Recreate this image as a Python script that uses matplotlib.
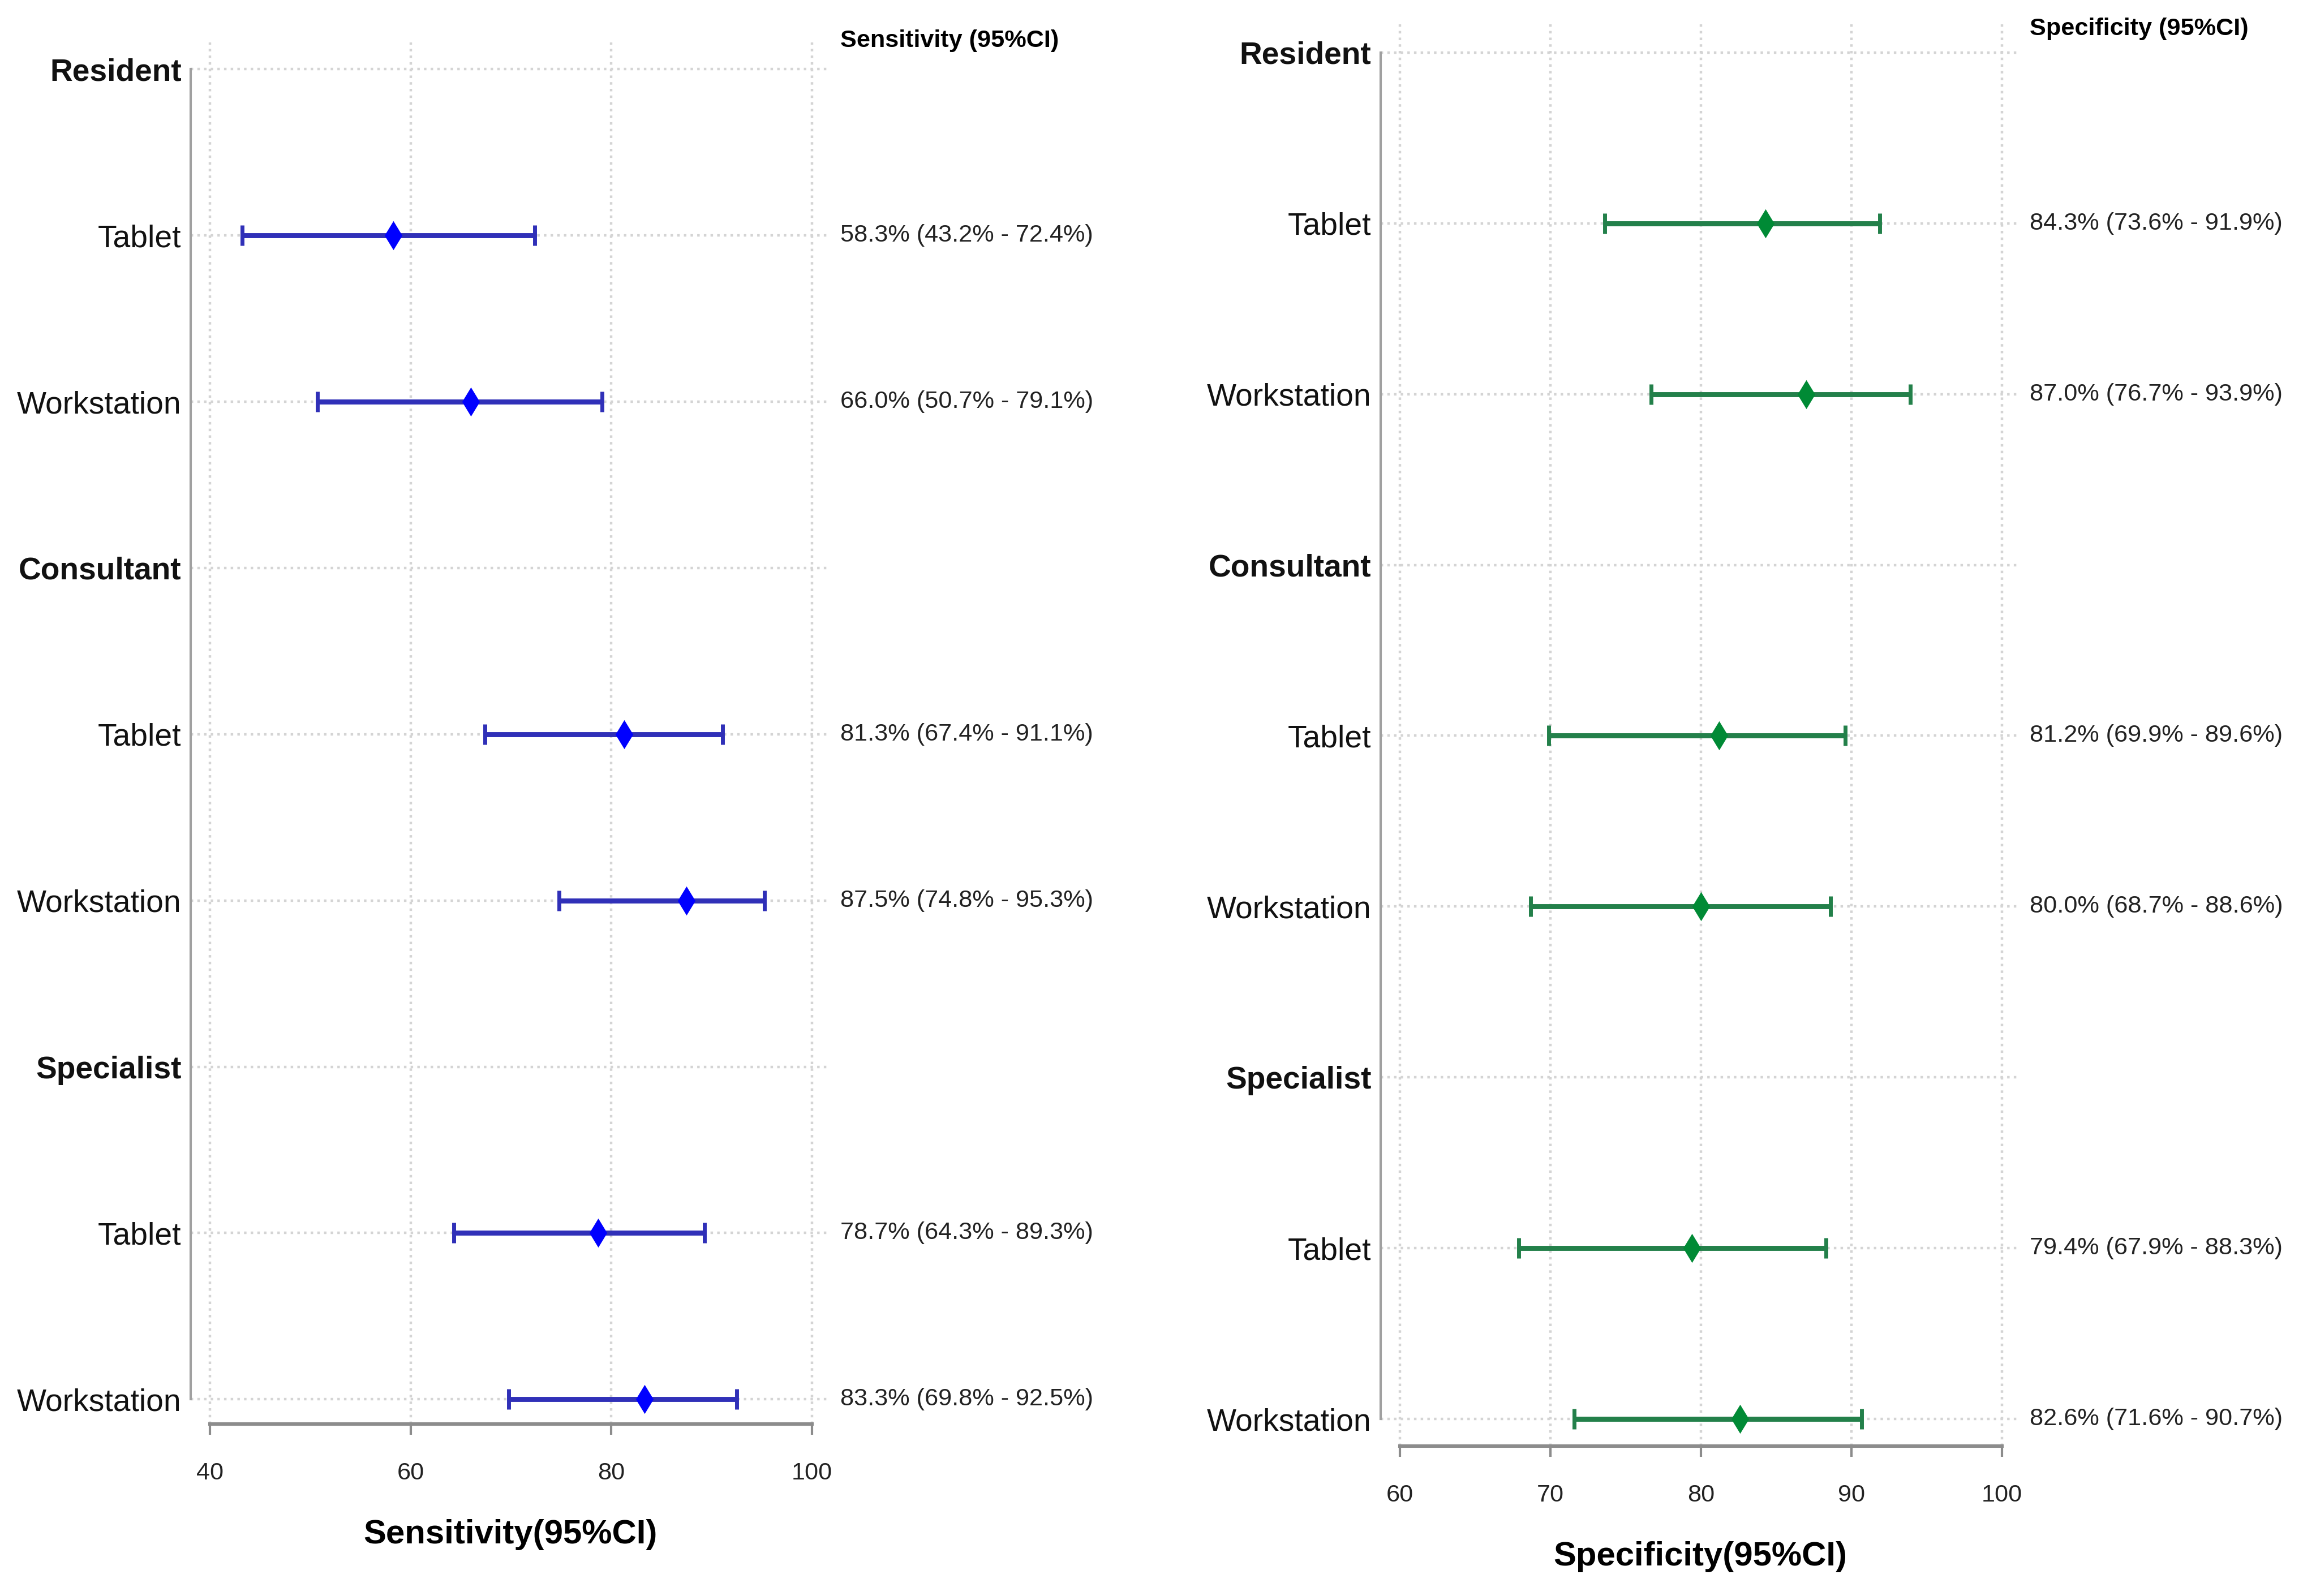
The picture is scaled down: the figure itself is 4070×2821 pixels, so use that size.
import numpy as np
import matplotlib
matplotlib.use('Agg')
import matplotlib.pyplot as plt
from matplotlib import font_manager
from matplotlib.transforms import blended_transform_factory

# a narrow font would be closer, but fall back to Liberation Sans and shrink sizes
names = {f.name for f in font_manager.fontManager.ttflist}
if 'Liberation Sans Narrow' in names:
    fam, k = 'Liberation Sans Narrow', 1.0
else:
    fam, k = 'Liberation Sans', 0.82
plt.rcParams['font.family'] = [fam, 'DejaVu Sans']

groups = ['Resident', 'Consultant', 'Specialist']
devices = ['Tablet', 'Workstation']

sens_est = [58.3, 66.0, 81.3, 87.5, 78.7, 83.3]
sens_lo = [43.2, 50.7, 67.4, 74.8, 64.3, 69.8]
sens_hi = [72.4, 79.1, 91.1, 95.3, 89.3, 92.5]

spec_est = [84.3, 87.0, 81.2, 80.0, 79.4, 82.6]
spec_lo = [73.6, 76.7, 69.9, 68.7, 67.9, 71.6]
spec_hi = [91.9, 93.9, 89.6, 88.6, 88.3, 90.7]

sens_ticks = [40, 60, 80, 100]
spec_ticks = [60, 70, 80, 90, 100]

# row layout: group header then its two devices
labels = []
group_rows = []
item_rows = []
for g in groups:
    group_rows.append(len(labels))
    labels.append(g)
    for d in devices:
        item_rows.append(len(labels))
        labels.append(d)


def draw_panel(ax, est, lo, hi, lcolor, mcolor, xlim, ylim, xticks, xlabel,
               header, text_x, header_y):
    est = np.array(est)
    lo = np.array(lo)
    hi = np.array(hi)
    ax.set_axisbelow(True)
    ax.grid(True, linestyle=':', color='#d4d4d4', lw=1.6)
    ax.errorbar(est, item_rows, xerr=[est - lo, hi - est], fmt='none',
                ecolor=lcolor, elinewidth=3.2, capsize=6.5, capthick=2.5, zorder=2)
    ax.plot(est, item_rows, 'd', color=mcolor, ms=11.5, mec=mcolor, zorder=3)
    ax.set_xlim(xlim)
    ax.set_ylim(ylim)
    ax.set_xticks(xticks)
    ax.set_yticks(range(len(labels)))
    ax.set_yticklabels(labels)
    for i, t in enumerate(ax.get_yticklabels()):
        if i in group_rows:
            t.set_fontweight('bold')
    ax.spines['top'].set_visible(False)
    ax.spines['right'].set_visible(False)
    ax.spines['left'].set_bounds(0, len(labels) - 1)
    ax.spines['left'].set_color('#a0a0a0')
    ax.spines['left'].set_linewidth(1.5)
    ax.spines['bottom'].set_bounds(xticks[0], xticks[-1])
    ax.spines['bottom'].set_color('#8c8c8c')
    ax.spines['bottom'].set_linewidth(2.2)
    ax.tick_params(axis='y', length=0, pad=6, labelsize=24.2 * k, labelcolor='#111111')
    ax.tick_params(axis='x', length=7, width=1.5, color='#8c8c8c', labelsize=19 * k,
                   pad=17, labelcolor='#222222')
    ax.set_xlabel(xlabel, fontsize=26.3 * k, fontweight='bold', labelpad=22)
    tr = blended_transform_factory(ax.figure.transFigure, ax.transData)
    ax.text(text_x, header_y, header, transform=tr, fontsize=19 * k,
            fontweight='bold', ha='left', va='center')
    for r, e, l, h in zip(item_rows, est, lo, hi):
        ax.text(text_x, r, f'{e:.1f}% ({l:.1f}% - {h:.1f}%)', transform=tr,
                fontsize=19 * k, ha='left', va='center', color='#222222')


fig = plt.figure(figsize=(20.35, 14.105), dpi=200)

ax1 = fig.add_axes([0.0829, 0.1076, 0.2774, 0.8657])
draw_panel(ax1, sens_est, sens_lo, sens_hi, '#3030b8', '#0000ff',
           (38.1, 101.8), (8.15, -0.16), sens_ticks, 'Sensitivity(95%CI)',
           'Sensitivity (95%CI)', 0.3648, -0.17)

ax2 = fig.add_axes([0.5995, 0.0938, 0.2774, 0.8915])
draw_panel(ax2, spec_est, spec_lo, spec_hi, '#23804a', '#008a35',
           (58.73, 101.17), (8.16, -0.17), spec_ticks, 'Specificity(95%CI)',
           'Specificity (95%CI)', 0.8814, -0.14)

fig.savefig('out.png', dpi=200)
